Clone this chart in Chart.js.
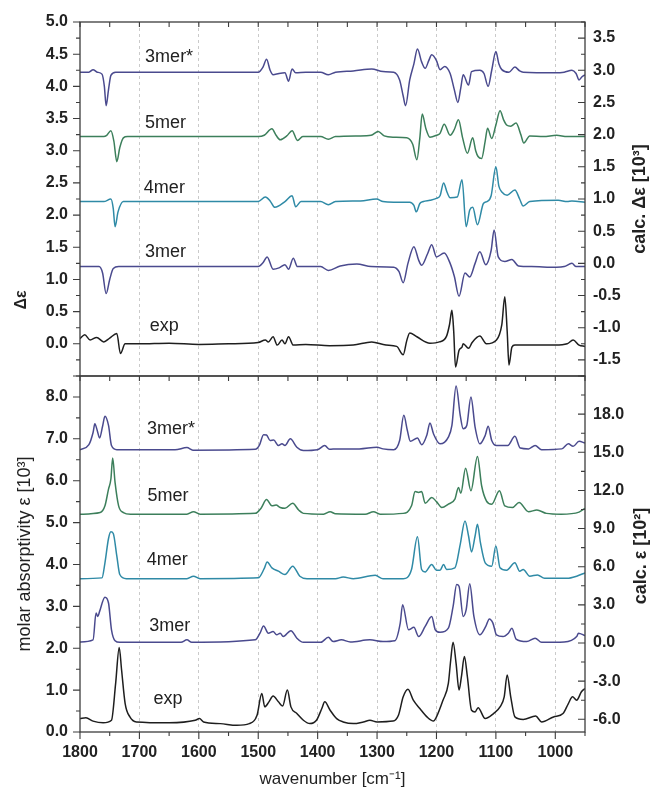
<!DOCTYPE html>
<html lang="en">
<head>
<meta charset="UTF-8">
<title>VCD / IR spectra</title>
<script src="https://cdn.jsdelivr.net/npm/chart.js"></script>
<style>
  body { margin: 0; background: #fff; }
  #wrap { position: relative; width: 653px; height: 793px; }
  canvas { position: absolute; left: 0; top: 0; }
</style>
</head>
<body>
<div id="wrap">
  <canvas id="vcdChart" width="653" height="793"></canvas>
  <canvas id="irChart" width="653" height="793"></canvas>
</div>
<script>
// tick labels
const xTicks = [1800, 1700, 1600, 1500, 1400, 1300, 1200, 1100, 1000];
const vcdLeftTicks = [0.0, 0.5, 1.0, 1.5, 2.0, 2.5, 3.0, 3.5, 4.0, 4.5, 5.0];
const vcdRightTicks = [-1.5, -1.0, -0.5, 0.0, 0.5, 1.0, 1.5, 2.0, 2.5, 3.0, 3.5];
const irLeftTicks = [0, 1, 2, 3, 4, 5, 6, 7, 8];
const irRightTicks = [-6, -3, 0, 3, 6, 9, 12, 15, 18];

// series names, top to bottom
const seriesNames = ['3mer*', '5mer', '4mer', '3mer', 'exp'];

// VCD panel, [wavenumber, value on left axis]
const vcd3merStar = [[1800,4.22],[1785,4.22],[1778,4.26],[1771,4.22],[1763,4.19],[1759,4.0],[1756,3.7],[1752,3.95],[1748,4.17],[1740,4.22],[1620,4.22],[1500,4.22],[1492,4.3],[1486,4.42],[1480,4.25],[1475,4.18],[1465,4.2],[1455,4.21],[1449,4.08],[1443,4.27],[1437,4.21],[1420,4.22],[1395,4.22],[1382,4.18],[1370,4.22],[1340,4.24],[1309,4.27],[1290,4.23],[1272,4.22],[1262,4.1],[1256,3.85],[1252,3.7],[1245,4.1],[1238,4.35],[1232,4.58],[1225,4.38],[1219,4.28],[1213,4.4],[1208,4.49],[1200,4.4],[1194,4.26],[1186,4.31],[1177,4.2],[1170,3.95],[1164,3.75],[1159,3.98],[1155,4.18],[1146,4.02],[1141,4.23],[1127,4.25],[1120,4.2],[1113,4.0],[1107,4.25],[1100,4.54],[1095,4.35],[1090,4.26],[1078,4.22],[1068,4.3],[1060,4.24],[1054,4.22],[1000,4.21],[985,4.22],[972,4.25],[965,4.2],[960,4.1],[955,4.15],[950,4.18]];
const vcd5mer = [[1800,3.22],[1760,3.22],[1755,3.24],[1748,3.31],[1743,3.15],[1738,2.83],[1733,3.05],[1727,3.2],[1720,3.22],[1500,3.22],[1490,3.24],[1477,3.34],[1470,3.24],[1463,3.17],[1452,3.23],[1443,3.31],[1434,3.16],[1425,3.22],[1395,3.22],[1382,3.18],[1370,3.22],[1330,3.23],[1310,3.24],[1298,3.3],[1288,3.23],[1272,3.21],[1250,3.2],[1240,3.1],[1233,2.86],[1228,3.2],[1224,3.57],[1218,3.35],[1211,3.21],[1200,3.24],[1194,3.27],[1187,3.41],[1177,3.24],[1170,3.33],[1163,3.48],[1156,3.2],[1148,2.96],[1139,3.2],[1134,3.0],[1130,2.91],[1124,2.88],[1118,3.15],[1114,3.35],[1107,3.19],[1100,3.4],[1093,3.62],[1087,3.48],[1082,3.4],[1075,3.38],[1066,3.43],[1058,3.25],[1053,3.12],[1043,3.23],[1020,3.22],[998,3.24],[980,3.22],[950,3.22]];
const vcd4mer = [[1800,2.21],[1760,2.21],[1748,2.25],[1744,2.1],[1741,1.82],[1736,2.05],[1727,2.21],[1500,2.21],[1488,2.28],[1480,2.22],[1472,2.12],[1455,2.21],[1443,2.3],[1437,2.13],[1428,2.21],[1395,2.21],[1382,2.16],[1370,2.21],[1328,2.22],[1301,2.25],[1290,2.21],[1272,2.2],[1245,2.2],[1238,2.15],[1234,2.05],[1228,2.18],[1222,2.21],[1211,2.23],[1200,2.26],[1194,2.3],[1188,2.5],[1182,2.35],[1177,2.27],[1165,2.28],[1157,2.55],[1150,1.82],[1144,2.08],[1139,2.12],[1131,1.85],[1121,2.18],[1115,2.21],[1108,2.3],[1100,2.75],[1095,2.45],[1090,2.36],[1081,2.31],[1068,2.39],[1060,2.25],[1054,2.14],[1043,2.21],[995,2.23],[980,2.21],[972,2.22],[950,2.2]];
const vcd3mer = [[1800,1.2],[1768,1.2],[1762,1.1],[1756,0.78],[1750,1.0],[1744,1.17],[1735,1.2],[1500,1.2],[1492,1.26],[1485,1.35],[1475,1.16],[1465,1.18],[1455,1.23],[1449,1.16],[1441,1.33],[1434,1.2],[1425,1.2],[1395,1.2],[1382,1.14],[1362,1.21],[1334,1.24],[1310,1.2],[1272,1.19],[1263,1.12],[1256,0.95],[1248,1.25],[1238,1.51],[1230,1.3],[1225,1.22],[1215,1.4],[1208,1.54],[1200,1.35],[1187,1.41],[1177,1.25],[1170,1.05],[1162,0.74],[1152,1.1],[1144,1.04],[1135,1.25],[1127,1.43],[1117,1.23],[1108,1.45],[1103,1.77],[1096,1.35],[1085,1.28],[1073,1.31],[1062,1.21],[1040,1.2],[998,1.19],[985,1.2],[972,1.25],[965,1.2],[950,1.2]];
const vcdExp = [[1800,0.08],[1792,0.14],[1783,0.06],[1772,0.1],[1760,0.03],[1750,0.09],[1738,0.16],[1732,-0.15],[1724,0.0],[1700,0.0],[1650,0.01],[1600,-0.01],[1550,0.0],[1500,0.02],[1488,0.06],[1483,0.03],[1475,0.11],[1468,-0.02],[1460,0.06],[1455,0.0],[1449,0.11],[1441,-0.02],[1420,-0.01],[1380,-0.03],[1340,-0.02],[1309,0.03],[1285,-0.02],[1267,-0.04],[1256,-0.17],[1250,0.05],[1245,0.17],[1233,0.11],[1211,0.01],[1195,0.03],[1183,0.12],[1178,0.3],[1174,0.52],[1171,0.2],[1168,-0.36],[1162,-0.1],[1157,-0.05],[1155,0.0],[1146,-0.07],[1140,0.02],[1127,0.12],[1116,0.0],[1099,0.06],[1090,0.3],[1085,0.73],[1081,0.2],[1078,-0.33],[1073,-0.05],[1068,-0.02],[1000,-0.02],[980,0.0],[970,0.06],[960,-0.02],[950,-0.04]];

// IR panel, [wavenumber, value on left axis]
const ir3merStar = [[1800,6.74],[1785,6.86],[1778,7.15],[1775,7.36],[1771,7.2],[1767,7.02],[1762,7.3],[1758,7.54],[1752,7.32],[1747,6.84],[1738,6.74],[1640,6.74],[1620,6.79],[1610,6.73],[1505,6.75],[1498,6.85],[1491,7.1],[1486,7.09],[1480,6.96],[1474,6.97],[1466,6.84],[1460,6.88],[1455,6.84],[1446,7.0],[1435,6.8],[1424,6.72],[1400,6.74],[1388,6.84],[1380,6.75],[1368,6.76],[1330,6.76],[1300,6.8],[1290,6.76],[1272,6.74],[1262,6.96],[1255,7.56],[1249,7.2],[1244,6.94],[1232,7.02],[1225,6.86],[1216,7.1],[1211,7.38],[1205,7.12],[1194,6.88],[1180,7.04],[1174,7.32],[1167,8.26],[1160,7.56],[1155,7.24],[1149,7.32],[1142,8.0],[1135,7.28],[1127,6.88],[1118,7.08],[1113,7.3],[1107,6.96],[1099,6.84],[1080,6.84],[1068,7.06],[1059,6.78],[1045,6.76],[1034,6.84],[1023,6.74],[989,6.76],[978,6.88],[970,6.82],[960,6.94],[950,6.9]];
const ir5mer = [[1800,5.2],[1766,5.24],[1758,5.4],[1752,5.8],[1748,6.04],[1745,6.54],[1741,5.96],[1735,5.4],[1727,5.24],[1715,5.2],[1620,5.2],[1609,5.26],[1598,5.2],[1505,5.22],[1495,5.35],[1486,5.55],[1477,5.4],[1470,5.42],[1463,5.36],[1455,5.34],[1442,5.46],[1432,5.3],[1424,5.22],[1390,5.2],[1379,5.26],[1370,5.21],[1320,5.2],[1306,5.26],[1295,5.2],[1256,5.22],[1242,5.4],[1236,5.74],[1230,5.72],[1225,5.74],[1219,5.46],[1208,5.6],[1200,5.5],[1191,5.36],[1180,5.44],[1169,5.56],[1163,5.84],[1159,5.7],[1151,6.3],[1142,5.76],[1131,6.58],[1124,5.88],[1116,5.52],[1107,5.44],[1094,5.76],[1085,5.4],[1072,5.36],[1061,5.48],[1045,5.26],[1031,5.3],[1015,5.22],[990,5.2],[960,5.25],[950,5.34]];
const ir4mer = [[1800,3.66],[1763,3.68],[1758,4.04],[1752,4.62],[1748,4.78],[1744,4.74],[1738,4.2],[1733,3.76],[1722,3.66],[1620,3.66],[1609,3.72],[1598,3.66],[1500,3.68],[1490,3.9],[1485,4.06],[1477,3.92],[1466,3.84],[1455,3.76],[1442,3.96],[1430,3.72],[1418,3.66],[1370,3.66],[1357,3.7],[1340,3.66],[1303,3.74],[1290,3.66],[1256,3.66],[1242,3.88],[1232,4.66],[1225,3.88],[1219,3.82],[1208,4.0],[1200,3.86],[1194,3.86],[1188,4.0],[1183,3.88],[1169,3.92],[1160,4.48],[1152,5.04],[1146,4.68],[1141,4.3],[1135,4.68],[1131,4.96],[1126,4.52],[1118,4.04],[1107,3.96],[1100,4.44],[1093,3.92],[1082,3.86],[1068,4.04],[1060,3.84],[1054,3.88],[1043,3.72],[1030,3.75],[1018,3.67],[980,3.67],[964,3.72],[950,3.8]];
const ir3mer = [[1800,2.15],[1778,2.2],[1773,2.84],[1770,2.76],[1767,2.88],[1758,3.22],[1752,3.08],[1747,2.44],[1741,2.18],[1733,2.14],[1630,2.14],[1620,2.2],[1612,2.14],[1505,2.2],[1497,2.36],[1491,2.53],[1483,2.36],[1475,2.4],[1469,2.32],[1463,2.36],[1458,2.28],[1445,2.42],[1435,2.24],[1424,2.14],[1395,2.14],[1382,2.26],[1374,2.16],[1360,2.2],[1345,2.15],[1312,2.2],[1290,2.16],[1270,2.18],[1261,2.6],[1257,3.04],[1247,2.44],[1238,2.5],[1230,2.28],[1219,2.52],[1208,2.76],[1202,2.44],[1194,2.38],[1180,2.48],[1172,3.0],[1166,3.52],[1162,3.48],[1155,2.76],[1150,2.92],[1144,3.54],[1137,2.76],[1127,2.32],[1117,2.52],[1111,2.7],[1105,2.6],[1099,2.32],[1088,2.28],[1079,2.36],[1073,2.48],[1066,2.22],[1048,2.16],[1034,2.24],[1023,2.14],[985,2.15],[964,2.28],[961,2.36],[950,2.3]];
const irExp = [[1800,0.32],[1790,0.34],[1778,0.26],[1761,0.22],[1747,0.28],[1740,1.16],[1734,2.02],[1730,1.48],[1724,0.68],[1716,0.36],[1705,0.24],[1650,0.22],[1606,0.28],[1599,0.32],[1592,0.24],[1564,0.2],[1536,0.16],[1515,0.2],[1502,0.4],[1494,0.92],[1489,0.6],[1482,0.72],[1475,0.86],[1466,0.72],[1459,0.62],[1451,1.0],[1445,0.6],[1435,0.44],[1424,0.28],[1413,0.2],[1402,0.28],[1393,0.56],[1388,0.72],[1379,0.52],[1368,0.32],[1357,0.24],[1340,0.2],[1323,0.24],[1312,0.28],[1300,0.24],[1273,0.26],[1264,0.4],[1256,0.84],[1248,1.02],[1239,0.76],[1228,0.56],[1216,0.36],[1205,0.26],[1200,0.36],[1189,0.76],[1180,1.16],[1176,1.72],[1172,2.14],[1167,1.64],[1162,1.0],[1158,1.32],[1153,1.8],[1148,1.32],[1141,0.52],[1135,0.48],[1130,0.58],[1118,0.32],[1104,0.44],[1093,0.6],[1086,0.84],[1081,1.36],[1075,0.84],[1068,0.36],[1054,0.3],[1033,0.38],[1023,0.24],[1003,0.36],[987,0.44],[978,0.68],[971,0.84],[964,0.76],[956,0.96],[950,1.04]];

const colors = { '3mer*': '#4a4a8e', '5mer': '#3c7f5b', '4mer': '#2f8aa6', '3mer': '#4a4a8e', 'exp': '#1e1e1e' };

const FONT = '"Liberation Sans", Arial, sans-serif';
const tickFont = { family: FONT, size: 16, weight: 'bold' };
const axisColor = '#3c3c3c';

function toPoints(arr) {
  return arr.map(p => ({ x: p[0], y: p[1] }));
}

function makeDatasets(curves) {
  return curves.map((arr, i) => ({
    label: seriesNames[i],
    data: toPoints(arr),
    yAxisID: 'yL',
    borderColor: colors[seriesNames[i]],
    borderWidth: 1.5,
    pointRadius: 0,
    cubicInterpolationMode: 'monotone',
    fill: false
  }));
}

function xScale(showLabels) {
  return {
    type: 'linear', min: 950, max: 1800, reverse: true,
    afterBuildTicks: s => { s.ticks = xTicks.map(v => ({ value: v })); },
    grid: {
      color: c => (c.tick && c.tick.value === 1800) ? 'rgba(0,0,0,0)' : '#c4c4c4',
      lineWidth: 0.9, drawTicks: false
    },
    border: { display: false, dash: [3, 3] },
    ticks: { display: showLabels, font: tickFont, color: '#222', padding: 11, maxRotation: 0, autoSkip: false, callback: v => v },
    title: { display: showLabels, text: 'wavenumber [cm\u207B\u00B9]', font: { family: FONT, size: 17 }, color: '#222', padding: { top: 0, bottom: 3 } },
    afterFit: s => { s.height = showLabels ? 61 : 0; }
  };
}

function yScale(pos, min, max, ticks, digits, width, pad) {
  return {
    type: 'linear', position: pos, min: min, max: max,
    afterBuildTicks: s => { s.ticks = ticks.map(v => ({ value: v })); },
    grid: { display: false, drawTicks: false },
    border: { display: false },
    ticks: { font: tickFont, color: '#222', padding: pad, callback: v => v.toFixed(digits) },
    afterFit: s => { s.width = width; }
  };
}

// frame, tick marks, in-plot labels and y titles
const decorPlugin = {
  id: 'decor',
  afterDraw(chart, args, o) {
    const ctx = chart.ctx;
    const a = chart.chartArea;
    const xs = chart.scales.x;
    ctx.save();
    ctx.strokeStyle = axisColor;
    ctx.lineWidth = 1.3;
    ctx.strokeRect(a.left, a.top, a.right - a.left, a.bottom - a.top);

    ctx.lineWidth = 1.1;
    ctx.beginPath();
    // x ticks every 50
    for (let v = 1800; v >= 950; v -= 50) {
      const px = xs.getPixelForValue(v);
      const major = v % 100 === 0;
      ctx.moveTo(px, a.top);
      ctx.lineTo(px, a.top + 5);
      if (o.bottomTicks) {
        ctx.moveTo(px, a.bottom);
        ctx.lineTo(px, a.bottom + (major ? 7 : 4));
      }
    }
    // y ticks, left outward, right inward
    const yTicks = (scale, step, x, dir) => {
      const minor = step / 2;
      const start = Math.ceil(scale.min / minor - 1e-6) * minor;
      for (let v = start; v <= scale.max + 1e-6; v += minor) {
        const py = scale.getPixelForValue(v);
        const major = Math.abs(v / step - Math.round(v / step)) < 1e-6;
        ctx.moveTo(x, py);
        ctx.lineTo(x + dir * (major ? 7 : 4), py);
      }
    };
    yTicks(chart.scales.yL, o.leftStep, a.left, -1);
    yTicks(chart.scales.yR, o.rightStep, a.right, -1);
    ctx.stroke();

    // series labels inside the plot
    ctx.fillStyle = '#222';
    ctx.font = '18px ' + FONT;
    ctx.textAlign = 'center';
    ctx.textBaseline = 'middle';
    o.labels.forEach(l => {
      ctx.fillText(l.text, xs.getPixelForValue(l.x), chart.scales.yL.getPixelForValue(l.y));
    });

    // rotated axis titles
    o.titles.forEach(t => {
      ctx.save();
      ctx.translate(t.x, t.y);
      ctx.rotate(-Math.PI / 2);
      ctx.font = t.font;
      ctx.fillText(t.text, 0, 0);
      ctx.restore();
    });
    ctx.restore();
  }
};

Chart.register(decorPlugin);

const common = {
  responsive: false,
  animation: false,
  events: [],
  plugins: { legend: { display: false }, tooltip: { enabled: false } }
};

new Chart(document.getElementById('vcdChart'), {
  type: 'line',
  data: { datasets: makeDatasets([vcd3merStar, vcd5mer, vcd4mer, vcd3mer, vcdExp]) },
  options: Object.assign({}, common, {
    layout: { padding: { top: 22, bottom: 417, left: 0, right: 0 } },
    scales: {
      x: xScale(false),
      yL: yScale('left', -0.5, 5.0, vcdLeftTicks, 1, 80, 12),
      yR: yScale('right', -1.75, 3.75, vcdRightTicks, 1, 68, 8)
    },
    plugins: Object.assign({}, common.plugins, {
      decor: {
        bottomTicks: false, leftStep: 0.5, rightStep: 0.5,
        labels: [
          { text: '3mer*', x: 1650, y: 4.46 },
          { text: '5mer', x: 1656, y: 3.43 },
          { text: '4mer', x: 1658, y: 2.42 },
          { text: '3mer', x: 1656, y: 1.42 },
          { text: 'exp', x: 1658, y: 0.28 }
        ],
        titles: [
          { text: '\u0394\u03B5', x: 22, y: 300, font: 'bold 16px ' + FONT },
          { text: 'calc. \u0394\u03B5 [10\u00B3]', x: 640, y: 199, font: 'bold 18px ' + FONT }
        ]
      }
    })
  })
});

new Chart(document.getElementById('irChart'), {
  type: 'line',
  data: { datasets: makeDatasets([ir3merStar, ir5mer, ir4mer, ir3mer, irExp]) },
  options: Object.assign({}, common, {
    layout: { padding: { top: 376, bottom: 0, left: 0, right: 0 } },
    scales: {
      x: xScale(true),
      yL: yScale('left', 0, 8.5, irLeftTicks, 1, 80, 12),
      yR: yScale('right', -7, 21, irRightTicks, 1, 68, 8)
    },
    plugins: Object.assign({}, common.plugins, {
      decor: {
        bottomTicks: true, leftStep: 1, rightStep: 3,
        labels: [
          { text: '3mer*', x: 1647, y: 7.24 },
          { text: '5mer', x: 1652, y: 5.64 },
          { text: '4mer', x: 1653, y: 4.1 },
          { text: '3mer', x: 1649, y: 2.54 },
          { text: 'exp', x: 1652, y: 0.78 }
        ],
        titles: [
          { text: 'molar absorptivity \u03B5 [10\u00B3]', x: 25, y: 554, font: '18px ' + FONT },
          { text: 'calc. \u03B5 [10\u00B2]', x: 641, y: 556, font: 'bold 18px ' + FONT }
        ]
      }
    })
  })
});
</script>
</body>
</html>
